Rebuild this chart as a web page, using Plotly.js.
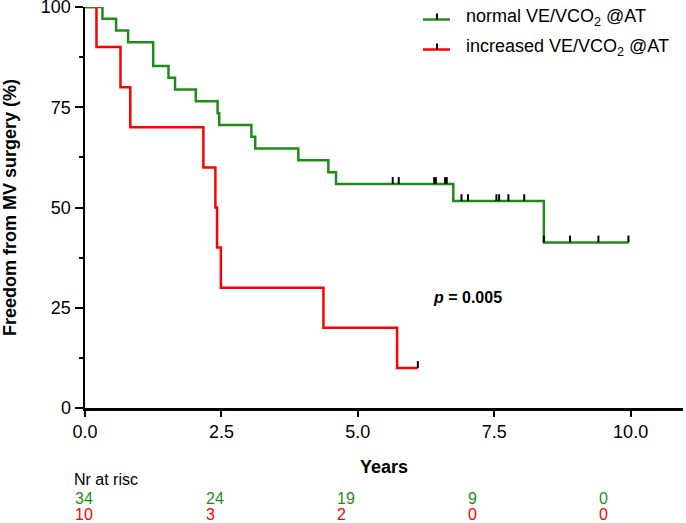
<!DOCTYPE html>
<html>
<head>
<meta charset="utf-8">
<script src="https://cdn.plot.ly/plotly-3.0.1.min.js"></script>
<style>html,body{margin:0;padding:0;background:#fff;}#chart{width:686px;height:523px;}</style>
</head>
<body>
<div id="chart"></div>
<script>
// ---- data ----
const greenName = 'normal VE/VCO<sub>2</sub> @AT';
const redName = 'increased VE/VCO<sub>2</sub> @AT';

const greenTimes = [0, 0.32, 0.57, 0.79, 1.25, 1.53, 1.65, 2.03, 2.43, 2.46, 3.05, 3.12, 3.91, 4.46, 4.60, 6.75, 8.41, 9.96];
const greenSurv  = [100, 97.06, 94.12, 91.18, 85.29, 82.35, 79.41, 76.47, 73.53, 70.59, 67.65, 64.71, 61.76, 58.82, 55.88, 51.6, 41.3, 41.3];
const greenCensor = [5.64, 5.75, 6.40, 6.43, 6.60, 6.63, 6.90, 7.02, 7.54, 7.59, 7.76, 8.05, 8.41, 8.89, 9.41, 9.96];

const redTimes = [0, 0.21, 0.65, 0.83, 2.17, 2.39, 2.42, 2.49, 4.37, 5.72, 6.10];
const redSurv  = [100, 90, 80, 70, 60, 50, 40, 30, 20, 10, 10];
const redCensor = [6.10];

const xTicks = [0, 2.5, 5, 7.5, 10];
const xTickText = ['0.0', '2.5', '5.0', '7.5', '10.0'];
const yTicks = [0, 25, 50, 75, 100];

const riskLabel = 'Nr at risc';
const riskGreen = [34, 24, 19, 9, 0];
const riskRed = [10, 3, 2, 0, 0];

const pText = '<b><i>p</i> = 0.005</b>';

// ---- styles ----
const GREEN = '#1f8c1a';
const RED = '#ff0000';
const FONT = 'Arial, "Liberation Sans", sans-serif';

function stepValue(times, surv, t) {
  let v = surv[0];
  for (let i = 0; i < times.length; i++) { if (times[i] <= t) v = surv[i]; }
  return v;
}
function censorTrace(ct, times, surv) {
  return {
    x: ct, y: ct.map(t => stepValue(times, surv, t)),
    type: 'scatter', mode: 'markers', showlegend: false, hoverinfo: 'skip', cliponaxis: false,
    marker: {size: 0.1, color: 'rgba(0,0,0,0)'},
    error_y: {type: 'data', symmetric: false, array: ct.map(() => 1.7), arrayminus: ct.map(() => 0),
              width: 0, thickness: 2, color: '#000'}
  };
}

const traces = [
  {x: redTimes, y: redSurv, type: 'scatter', mode: 'lines', name: redName, showlegend: false,
   line: {color: RED, width: 2.5, shape: 'hv'}, cliponaxis: false},
  {x: greenTimes, y: greenSurv, type: 'scatter', mode: 'lines', name: greenName, showlegend: false,
   line: {color: GREEN, width: 2.5, shape: 'hv'}, cliponaxis: false},
  censorTrace(redCensor, redTimes, redSurv),
  censorTrace(greenCensor, greenTimes, greenSurv)
];

// pixel helpers for layout placement
const L = 85, T = 7, W = 598, H = 401;
const px = x => (x - L) / W;
const py = y => (T + H - y) / H;

const annotations = [];
// legend texts
annotations.push({xref: 'paper', yref: 'paper', x: px(464), y: py(18), xanchor: 'left', yanchor: 'middle',
  text: greenName, showarrow: false, font: {family: FONT, size: 18, color: '#000'}});
annotations.push({xref: 'paper', yref: 'paper', x: px(464), y: py(48), xanchor: 'left', yanchor: 'middle',
  text: redName, showarrow: false, font: {family: FONT, size: 18, color: '#000'}});
// p value
annotations.push({xref: 'paper', yref: 'paper', x: px(467), y: py(297), xanchor: 'center', yanchor: 'middle',
  text: pText, showarrow: false, font: {family: FONT, size: 16, color: '#000'}});
// numbers at risk
annotations.push({xref: 'paper', yref: 'paper', x: px(73), y: py(480), xanchor: 'left', yanchor: 'middle',
  text: riskLabel, showarrow: false, borderpad: 0, font: {family: FONT, size: 16, color: '#000'}});
riskGreen.forEach((v, i) => annotations.push({xref: 'paper', yref: 'paper', x: px(73.5 + i * 131), y: py(498),
  xanchor: 'left', yanchor: 'middle', text: String(v), showarrow: false, borderpad: 0, font: {family: FONT, size: 16, color: GREEN}}));
riskRed.forEach((v, i) => annotations.push({xref: 'paper', yref: 'paper', x: px(73.5 + i * 131), y: py(514),
  xanchor: 'left', yanchor: 'middle', text: String(v), showarrow: false, borderpad: 0, font: {family: FONT, size: 16, color: RED}}));

const shapes = [
  {type: 'line', xref: 'paper', yref: 'paper', x0: px(423), x1: px(450), y0: py(19.5), y1: py(19.5), line: {color: GREEN, width: 2.5}},
  {type: 'line', xref: 'paper', yref: 'paper', x0: px(437), x1: px(437), y0: py(19.5), y1: py(13.5), line: {color: '#000', width: 2}},
  {type: 'line', xref: 'paper', yref: 'paper', x0: px(423), x1: px(450), y0: py(49.5), y1: py(49.5), line: {color: RED, width: 2.5}},
  {type: 'line', xref: 'paper', yref: 'paper', x0: px(437), x1: px(437), y0: py(49.5), y1: py(43.5), line: {color: '#000', width: 2}}
];

const layout = {
  width: 686, height: 523,
  margin: {l: L, r: 686 - L - W, t: T, b: 523 - T - H, pad: 0},
  paper_bgcolor: '#fff', plot_bgcolor: '#fff',
  showlegend: false,
  font: {family: FONT, size: 18, color: '#000'},
  xaxis: {
    range: [0, 10.96], tickvals: xTicks, ticktext: xTickText,
    showgrid: false, zeroline: false, showline: true, linecolor: '#000', linewidth: 2.5,
    ticks: 'outside', ticklen: 6, tickwidth: 2, tickcolor: '#000',
    tickfont: {family: FONT, size: 18, color: '#000'}, ticklabeloverflow: 'allow',
    title: {text: '<b>Years</b>', font: {family: FONT, size: 18, color: '#000'}, standoff: 20},
    automargin: false, fixedrange: true
  },
  yaxis: {
    range: [0, 100], tickvals: yTicks,
    showgrid: false, zeroline: false, showline: true, linecolor: '#000', linewidth: 2.5,
    ticks: 'outside', ticklen: 8, tickwidth: 2, tickcolor: '#000',
    minor: {tickvals: [12.5, 37.5, 62.5, 87.5], ticks: 'outside', ticklen: 4, tickwidth: 2, tickcolor: '#000'},
    tickfont: {family: FONT, size: 18, color: '#000'}, ticklabeloverflow: 'allow',
    title: {text: '<b>Freedom from MV surgery (%)</b>', font: {family: FONT, size: 18, color: '#000'}, standoff: 24},
    automargin: false, fixedrange: true
  },
  annotations: annotations,
  shapes: shapes
};

Plotly.newPlot('chart', traces, layout, {displayModeBar: false, staticPlot: true});
</script>
</body>
</html>
